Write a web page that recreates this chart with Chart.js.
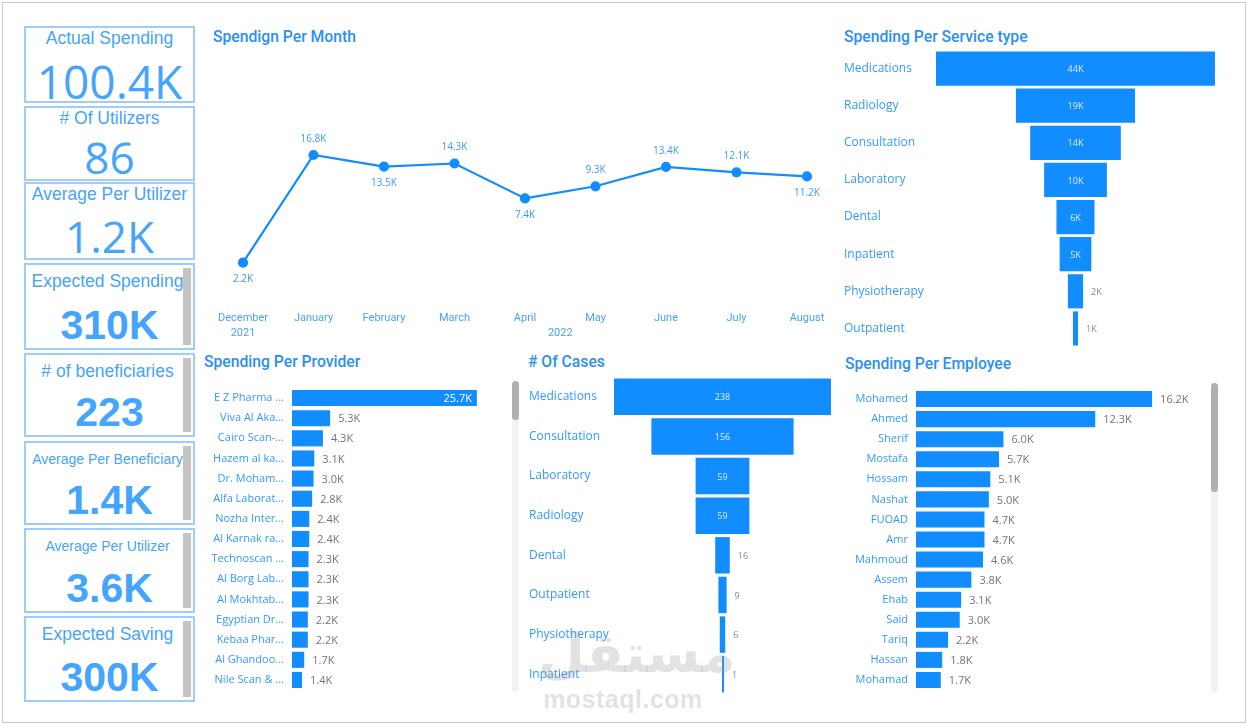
<!DOCTYPE html>
<html>
<head>
<meta charset="utf-8">
<script src="https://cdn.jsdelivr.net/npm/chart.js@4.4.1/dist/chart.umd.min.js"></script>
<style>
  html, body { margin: 0; padding: 0; background: #fff; }
  body { width: 1248px; height: 725px; position: relative; overflow: hidden; font-family: 'Open Sans', sans-serif; }
  .frame { position: absolute; left: 2px; top: 2px; width: 1242px; height: 719px; border: 1px solid #c8c8c8; }
  .card { position: absolute; left: 24px; width: 171px; border: 2px solid #9ccdfb; box-sizing: border-box; color: #45a4fb; text-align: center; }
  .card .t { position: absolute; left: 0; right: 0; top: 0; font-family: 'Liberation Sans', Arial, sans-serif; font-size: 17.5px; line-height: 20px; white-space: nowrap; }
  .card .v { position: absolute; left: 0; right: 0; bottom: 0; font-family: 'Open Sans', sans-serif; font-size: 44px; line-height: 44px; }
  .card.bold .t { right: 4px; top: 6px; }
  .card.bold .v { font-family: 'Liberation Sans', Arial, sans-serif; font-weight: bold; font-size: 41px; bottom: 1px; }
  .card .bar { position: absolute; right: 2px; top: 3px; bottom: 3px; width: 8px; background: #c4c4c4; }
  .title { position: absolute; font-family: 'Roboto', sans-serif; font-weight: 500; font-size: 15.7px; line-height: 16px; color: #2a90f5; white-space: nowrap; }
  .box { position: absolute; }
  .track { position: absolute; width: 7px; background: #f2f2f2; border-radius: 4px; }
  .thumb { position: absolute; left: 0; top: 0; width: 7px; background: #b0b0b0; border-radius: 4px; }
  .mark { position: absolute; left: 538px; top: 624px; width: 170px; text-align: center; color: rgba(150,150,150,0.28); pointer-events: none; font-weight: bold; }
  .mark .ar { font-family: 'DejaVu Sans', sans-serif; font-size: 54px; line-height: 60px; }
  .mark .en { font-family: 'Liberation Sans', sans-serif; font-size: 25px; line-height: 26px; letter-spacing: 0.5px; margin-top: 2px; }
</style>
</head>
<body>
<div class="frame"></div>
<div id="cards"></div>

<div class="title" style="left:213px;top:29px;">Spendign Per Month</div>
<div class="title" style="left:844px;top:29px;">Spending Per Service type</div>
<div class="title" style="left:204px;top:354px;">Spending Per Provider</div>
<div class="title" style="left:528px;top:354px;"># Of Cases</div>
<div class="title" style="left:845px;top:356px;">Spending Per Employee</div>

<div class="box" style="left:205px;top:50px;width:630px;height:295px;"><canvas id="monthChart"></canvas></div>
<div class="box" style="left:840px;top:50px;width:381px;height:297px;"><canvas id="serviceChart"></canvas></div>
<div class="box" style="left:200px;top:388px;width:310px;height:302px;"><canvas id="providerChart"></canvas></div>
<div class="box" style="left:525px;top:377px;width:310px;height:317px;"><canvas id="casesChart"></canvas></div>
<div class="box" style="left:840px;top:389px;width:365px;height:301px;"><canvas id="employeeChart"></canvas></div>

<div class="track" style="left:512px;top:381px;height:311px;"><div class="thumb" style="height:39px;"></div></div>
<div class="track" style="left:1211px;top:383px;height:310px;"><div class="thumb" style="height:109px;"></div></div>

<div class="mark"><div class="ar">مستقل</div><div class="en">mostaql.com</div></div>

<script>
const kpiTitles = ['Actual Spending', '# Of Utilizers', 'Average Per Utilizer', 'Expected Spending',
  '# of beneficiaries', 'Average Per Beneficiary', 'Average Per Utilizer', 'Expected Saving'];
const kpiValues = ['100.4K', '86', '1.2K', '310K', '223', '1.4K', '3.6K', '300K'];

const months = ['December', 'January', 'February', 'March', 'April', 'May', 'June', 'July', 'August'];
const monthYears = ['2021', '2022', '2022', '2022', '2022', '2022', '2022', '2022', '2022'];
const monthlySpending = [2.2, 16.8, 13.5, 14.3, 7.4, 9.3, 13.4, 12.1, 11.2]; // K

const serviceTypes = ['Medications', 'Radiology', 'Consultation', 'Laboratory', 'Dental', 'Inpatient', 'Physiotherapy', 'Outpatient'];
const serviceSpending = [44.0, 18.8, 14.3, 9.9, 6.0, 5.0, 2.4, 0.8]; // K

const caseTypes = ['Medications', 'Consultation', 'Laboratory', 'Radiology', 'Dental', 'Outpatient', 'Physiotherapy', 'Inpatient'];
const caseCounts = [238, 156, 59, 59, 16, 9, 6, 1];

const providers = ['E Z Pharma ...', 'Viva Al Aka...', 'Cairo Scan-...', 'Hazem al ka...', 'Dr. Moham...',
  'Alfa Laborat...', 'Nozha Inter...', 'Al Karnak ra...', 'Technoscan ...', 'Al Borg Lab...',
  'Al Mokhtab...', 'Egyptian Dr...', 'Kebaa Phar...', 'Al Ghandoo...', 'Nile Scan & ...'];
const providerSpending = [25.7, 5.3, 4.3, 3.1, 3.0, 2.8, 2.4, 2.4, 2.3, 2.3, 2.3, 2.2, 2.2, 1.7, 1.4]; // K

const employees = ['Mohamed', 'Ahmed', 'Sherif', 'Mostafa', 'Hossam', 'Nashat', 'FUOAD', 'Amr',
  'Mahmoud', 'Assem', 'Ehab', 'Said', 'Tariq', 'Hassan', 'Mohamad'];
const employeeSpending = [16.2, 12.3, 6.0, 5.7, 5.1, 5.0, 4.7, 4.7, 4.6, 3.8, 3.1, 3.0, 2.2, 1.8, 1.7]; // K

// KPI cards: [top, height, title size]
const cardBoxes = [[26, 77, 17.5], [106, 75, 17.5], [182, 78, 17.5], [263, 87, 17.5],
  [353, 84, 17.5], [441, 84, 14], [528, 85, 14], [616, 86, 17.5]];
const cardsEl = document.getElementById('cards');
kpiTitles.forEach((t, i) => {
  const [top, h, fs] = cardBoxes[i];
  const card = document.createElement('div');
  card.className = 'card' + (i >= 3 ? ' bold' : '');
  card.style.top = top + 'px';
  card.style.height = h + 'px';
  card.innerHTML = `<div class="t" style="font-size:${fs}px">${t}</div><div class="v"${i === 0 ? ' style="font-size:46px;bottom:-2px"' : ''}>${kpiValues[i]}</div>` +
    (i >= 3 ? '<div class="bar"></div>' : '');
  cardsEl.appendChild(card);
});

const BLUE = '#118DFF';
const LABEL_BLUE = '#3399ff';
const catFont = { family: "'Segoe UI', 'Open Sans', sans-serif", size: 12 };

Chart.defaults.animation = false;
Chart.defaults.responsive = true;
Chart.defaults.maintainAspectRatio = false;
Chart.defaults.plugins.legend.display = false;
Chart.defaults.plugins.tooltip.enabled = false;

// value labels on horizontal bars / funnels
const barLabels = {
  id: 'barLabels',
  afterDatasetsDraw(chart, args, opts) {
    const { ctx, chartArea } = chart;
    const meta = chart.getDatasetMeta(0);
    ctx.save();
    ctx.textBaseline = 'middle';
    meta.data.forEach((el, i) => {
      const raw = chart.data.datasets[0].data[i];
      const v = Array.isArray(raw) ? raw[1] - raw[0] : raw;
      const text = opts.format(v);
      const { x, base, y } = el.getProps(['x', 'base', 'y'], true);
      const left = Math.min(x, base), right = Math.max(x, base);
      ctx.font = `${opts.size}px 'Segoe UI', 'Open Sans', sans-serif`;
      const w = ctx.measureText(text).width;
      if (opts.funnel) {
        if (right - left > w + 10) {
          ctx.fillStyle = 'rgba(255,255,255,0.85)';
          ctx.textAlign = 'center';
          ctx.fillText(text, (left + right) / 2, y + 1);
        } else {
          ctx.fillStyle = '#8a8a8a';
          ctx.textAlign = 'left';
          ctx.fillText(text, right + 8, y + 1);
        }
      } else if (right + 8 + w > chartArea.right) {
        ctx.fillStyle = '#fff';
        ctx.textAlign = 'right';
        ctx.fillText(text, right - 5, y + 1);
      } else {
        ctx.fillStyle = '#7a7272';
        ctx.textAlign = 'left';
        ctx.fillText(text, right + 8, y + 1);
      }
    });
    ctx.restore();
  }
};

// point labels + grouped year labels for the line chart
const lineLabels = {
  id: 'lineLabels',
  afterDatasetsDraw(chart) {
    const { ctx } = chart;
    const vals = chart.data.datasets[0].data;
    const meta = chart.getDatasetMeta(0);
    ctx.save();
    ctx.font = "10px 'Segoe UI', 'Open Sans', sans-serif";
    ctx.fillStyle = '#3a9cf5';
    ctx.textAlign = 'center';
    ctx.textBaseline = 'middle';
    meta.data.forEach((pt, i) => {
      const prev = i > 0 ? vals[i - 1] : Infinity;
      const next = i < vals.length - 1 ? vals[i + 1] : Infinity;
      const below = vals[i] < prev && vals[i] < next;
      ctx.fillText(vals[i].toFixed(1) + 'K', pt.x, pt.y + (below ? 17 : -16));
    });
    // year groups under month ticks
    const xs = chart.scales.x;
    const groups = {};
    monthYears.forEach((yr, i) => { (groups[yr] = groups[yr] || []).push(i); });
    ctx.font = "11px 'Roboto', sans-serif";
    ctx.fillStyle = '#4aa3f0';
    Object.keys(groups).forEach((yr) => {
      const idx = groups[yr];
      const x = (xs.getPixelForValue(idx[0]) + xs.getPixelForValue(idx[idx.length - 1])) / 2;
      ctx.fillText(yr, x, xs.bottom + 5);
    });
    ctx.restore();
  }
};

new Chart(document.getElementById('monthChart'), {
  type: 'line',
  data: {
    labels: months,
    datasets: [{
      data: monthlySpending,
      borderColor: BLUE,
      backgroundColor: BLUE,
      borderWidth: 2.2,
      pointRadius: 4,
      tension: 0
    }]
  },
  options: {
    layout: { padding: { left: 38, right: 28, top: 10, bottom: 17 } },
    scales: {
      x: {
        offset: false,
        grid: { display: false, drawTicks: false },
        border: { display: false },
        ticks: { color: '#4aa3f0', font: { family: "'Roboto', sans-serif", size: 11 }, padding: 3, maxRotation: 0, autoSkip: false }
      },
      y: { type: 'logarithmic', display: false, min: 0.92, max: 101 }
    }
  },
  plugins: [lineLabels]
});

function hbarOptions(axisWidth, padLeft, max, min, farLabels, labelOpts) {
  return {
    indexAxis: 'y',
    layout: { padding: { left: padLeft, right: 0, top: 0, bottom: 0 } },
    scales: {
      x: { display: false, min: min, max: max },
      y: {
        grid: { display: false, drawTicks: false },
        border: { display: false },
        afterFit: (scale) => {
          scale.width = axisWidth;
          scale.paddingTop = 0;
          scale.paddingBottom = 0;
        },
        ticks: {
          color: LABEL_BLUE,
          font: farLabels ? catFont : { family: catFont.family, size: 11 },
          crossAlign: farLabels ? 'far' : 'near',
          padding: farLabels ? 0 : 8,
          autoSkip: false
        }
      }
    },
    plugins: { barLabels: labelOpts }
  };
}

new Chart(document.getElementById('serviceChart'), {
  type: 'bar',
  data: {
    labels: serviceTypes,
    datasets: [{
      data: serviceSpending.map((v) => [-v / 2, v / 2]),
      backgroundColor: BLUE,
      barPercentage: 0.92,
      categoryPercentage: 1,
      minBarLength: 2
    }]
  },
  options: hbarOptions(86, 4, 22.95, -22.95, true, { funnel: true, size: 9, format: (v) => Math.round(v) + 'K' }),
  plugins: [barLabels]
});

new Chart(document.getElementById('casesChart'), {
  type: 'bar',
  data: {
    labels: caseTypes,
    datasets: [{
      data: caseCounts.map((v) => [-v / 2, v / 2]),
      backgroundColor: BLUE,
      barPercentage: 0.92,
      categoryPercentage: 1,
      minBarLength: 2
    }]
  },
  options: hbarOptions(81, 4, 123.4, -123.4, true, { funnel: true, size: 9, format: (v) => String(Math.round(v)) }),
  plugins: [barLabels]
});

new Chart(document.getElementById('providerChart'), {
  type: 'bar',
  data: {
    labels: providers,
    datasets: [{ data: providerSpending, backgroundColor: BLUE, barPercentage: 0.8, categoryPercentage: 1 }]
  },
  options: hbarOptions(92, 0, 30.3, 0, false, { funnel: false, size: 11, format: (v) => v.toFixed(1) + 'K' }),
  plugins: [barLabels]
});

new Chart(document.getElementById('employeeChart'), {
  type: 'bar',
  data: {
    labels: employees,
    datasets: [{ data: employeeSpending, backgroundColor: BLUE, barPercentage: 0.8, categoryPercentage: 1 }]
  },
  options: hbarOptions(76, 0, 19.83, 0, false, { funnel: false, size: 11, format: (v) => v.toFixed(1) + 'K' }),
  plugins: [barLabels]
});
</script>
</body>
</html>
